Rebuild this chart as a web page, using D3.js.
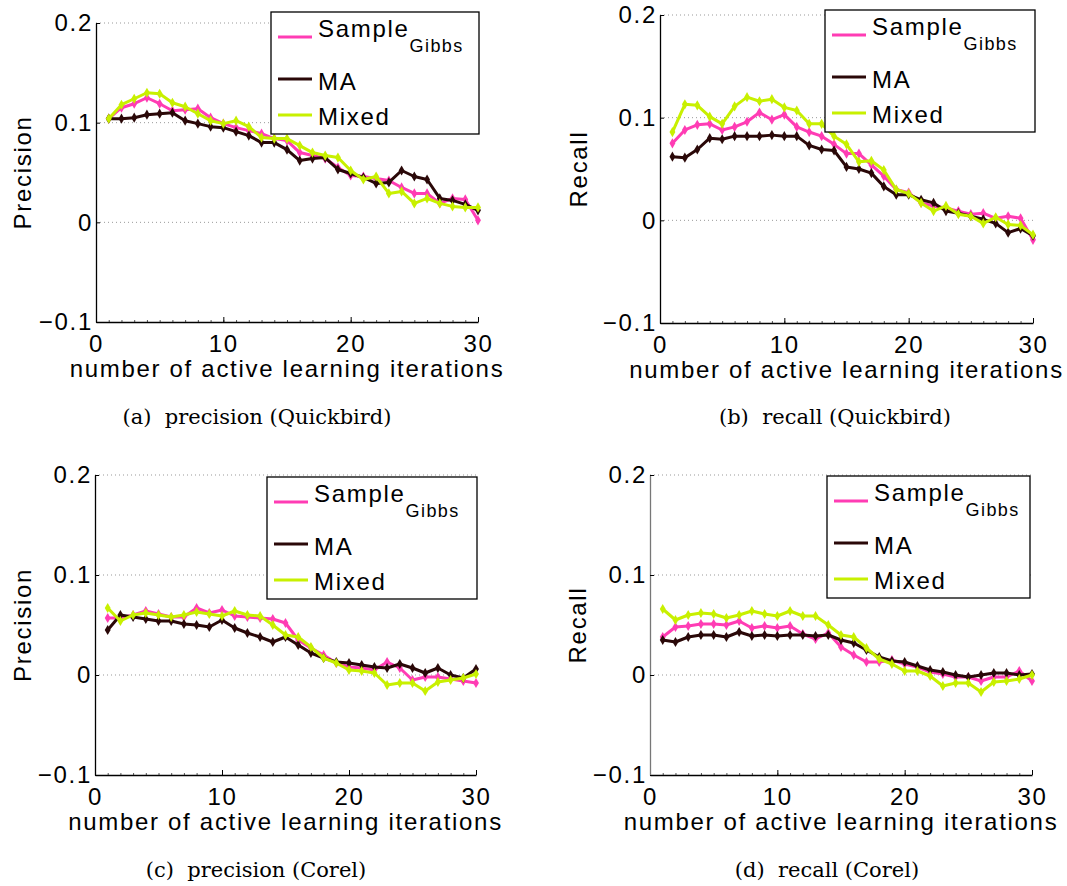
<!DOCTYPE html>
<html>
<head>
<meta charset="utf-8">
<script src="https://cdn.jsdelivr.net/npm/d3@7"></script>
<style>
  body { margin: 0; background: #fff; }
  svg { display: block; }
  text { font-family: "Liberation Sans", Arial, sans-serif; fill: #000; letter-spacing: 1.7px; }
  .caption { font-family: "DejaVu Serif", serif; letter-spacing: 0; white-space: pre; }
</style>
</head>
<body>
<svg width="1067" height="886"></svg>
<script>
// iterations on the x axis
const iterations = [1,2,3,4,5,6,7,8,9,10,11,12,13,14,15,16,17,18,19,20,21,22,23,24,25,26,27,28,29,30]
const xTicks = [0, 10, 20, 30]
const yTicks = [-0.1, 0, 0.1, 0.2]
const seriesNames = ["Sample", "MA", "Mixed"]

// (a) precision, Quickbird
const qbPrecisionSample = [0.104,0.115,0.119,0.125,0.119,0.112,0.113,0.114,0.105,0.099,0.095,0.092,0.089,0.084,0.082,0.070,0.067,0.064,0.055,0.047,0.046,0.044,0.042,0.035,0.029,0.029,0.019,0.024,0.023,0.002]
const qbPrecisionMA = [0.104,0.104,0.105,0.108,0.109,0.110,0.102,0.099,0.096,0.095,0.091,0.087,0.080,0.080,0.073,0.062,0.064,0.065,0.053,0.049,0.045,0.039,0.040,0.052,0.046,0.043,0.024,0.022,0.018,0.012]
const qbPrecisionMixed = [0.104,0.118,0.124,0.130,0.129,0.120,0.116,0.109,0.102,0.099,0.102,0.096,0.085,0.084,0.084,0.077,0.070,0.067,0.065,0.052,0.043,0.046,0.029,0.031,0.019,0.024,0.019,0.016,0.015,0.015]

// (b) recall, Quickbird
const qbRecallSample = [0.075,0.088,0.093,0.094,0.088,0.091,0.096,0.105,0.098,0.103,0.091,0.086,0.082,0.074,0.065,0.065,0.054,0.043,0.030,0.027,0.017,0.014,0.012,0.009,0.006,0.007,0.002,0.004,0.002,-0.019]
const qbRecallMA = [0.062,0.061,0.069,0.080,0.079,0.082,0.082,0.082,0.083,0.082,0.082,0.073,0.069,0.068,0.052,0.050,0.046,0.033,0.025,0.025,0.020,0.017,0.009,0.007,0.004,0.001,-0.003,-0.012,-0.008,-0.015]
const qbRecallMixed = [0.086,0.113,0.112,0.101,0.094,0.111,0.120,0.116,0.118,0.110,0.107,0.094,0.094,0.082,0.074,0.057,0.058,0.049,0.030,0.026,0.017,0.009,0.014,0.006,0.004,-0.003,0.003,-0.004,-0.005,-0.014]

// (c) precision, Corel
const corelPrecisionSample = [0.057,0.057,0.060,0.064,0.061,0.058,0.058,0.067,0.062,0.065,0.059,0.058,0.057,0.056,0.052,0.035,0.027,0.020,0.012,0.008,0.007,0.005,0.013,0.007,-0.005,-0.002,-0.002,-0.004,-0.006,-0.008]
const corelPrecisionMA = [0.045,0.060,0.058,0.056,0.054,0.054,0.051,0.050,0.048,0.055,0.047,0.042,0.038,0.033,0.038,0.030,0.022,0.017,0.013,0.012,0.010,0.008,0.007,0.011,0.007,0.002,0.007,0.000,-0.003,0.006]
const corelPrecisionMixed = [0.067,0.054,0.060,0.062,0.060,0.058,0.060,0.063,0.061,0.059,0.064,0.060,0.059,0.050,0.040,0.038,0.028,0.017,0.012,0.005,0.004,0.002,-0.010,-0.008,-0.008,-0.016,-0.007,-0.005,-0.003,0.001]

// (d) recall, Corel
const corelRecallSample = [0.038,0.048,0.049,0.051,0.051,0.050,0.054,0.047,0.049,0.047,0.049,0.041,0.036,0.042,0.028,0.020,0.013,0.013,0.015,0.011,0.008,0.003,0.001,-0.002,-0.002,-0.006,-0.002,-0.002,0.004,-0.006]
const corelRecallMA = [0.035,0.033,0.038,0.040,0.040,0.038,0.043,0.039,0.040,0.039,0.040,0.040,0.039,0.040,0.035,0.032,0.025,0.018,0.014,0.013,0.009,0.005,0.003,0.000,-0.002,0.000,0.002,0.002,0.000,0.001]
const corelRecallMixed = [0.066,0.055,0.060,0.062,0.061,0.057,0.060,0.064,0.061,0.059,0.064,0.059,0.059,0.050,0.040,0.038,0.027,0.016,0.011,0.004,0.004,-0.001,-0.011,-0.008,-0.008,-0.017,-0.007,-0.006,-0.004,0.000]

const colors = ["#ff3cb4", "#2a0808", "#c8f000"]

const panels = [
  { box: [96, 478, 23, 322], ylabel: "Precision", ylabelX: 22, axisColor: "#000",
    caption: "(a)  precision (Quickbird)", capX: 257, capY: 424, legend: [271, 12, 208],
    series: [qbPrecisionSample, qbPrecisionMA, qbPrecisionMixed] },
  { box: [660, 1033, 15, 323], ylabel: "Recall", ylabelX: 578, axisColor: "#000",
    caption: "(b)  recall (Quickbird)", capX: 835, capY: 424, legend: [825, 10, 210],
    series: [qbRecallSample, qbRecallMA, qbRecallMixed] },
  { box: [95, 476, 475, 775], ylabel: "Precision", ylabelX: 22, axisColor: "#000",
    caption: "(c)  precision (Corel)", capX: 256, capY: 877, legend: [267, 477, 210],
    series: [corelPrecisionSample, corelPrecisionMA, corelPrecisionMixed] },
  { box: [650, 1032, 475, 775], ylabel: "Recall", ylabelX: 577, axisColor: "#777",
    caption: "(d)  recall (Corel)", capX: 827, capY: 877, legend: [827, 476, 203],
    series: [corelRecallSample, corelRecallMA, corelRecallMixed] }
]

const svg = d3.select("svg")

const yFormat = d => d === 0 ? "0" : d3.format(".1f")(d)

panels.forEach(p => {
  const [left, right, top, bottom] = p.box

  const x = d3.scaleLinear().domain([0, 30]).range([left, right])
  const y = d3.scaleLinear().domain([-0.1, 0.2]).range([bottom, top])

  const g = svg.append("g")

  // dotted grid
  g.append("g")
    .selectAll("line")
    .data(yTicks.filter(t => t > -0.1))
    .join("line")
    .attr("x1", left).attr("x2", right)
    .attr("y1", d => y(d)).attr("y2", d => y(d))
    .attr("stroke", "#999")
    .attr("stroke-width", 1)
    .attr("stroke-dasharray", "1,3")

  // minor x ticks
  g.append("g")
    .selectAll("line")
    .data(d3.range(0, 31))
    .join("line")
    .attr("x1", d => x(d) + 0.5).attr("x2", d => x(d) + 0.5)
    .attr("y1", bottom).attr("y2", bottom - 2)
    .attr("stroke", "#555")
    .attr("stroke-width", 1)

  // x axis
  const xAxis = g.append("g")
    .attr("transform", `translate(0,${bottom})`)
    .call(d3.axisBottom(x).tickValues(xTicks).tickSizeInner(-5).tickSizeOuter(0).tickPadding(13))
  xAxis.select(".domain").attr("stroke", "#000").attr("stroke-width", 1.3)
  xAxis.selectAll(".tick line").attr("stroke", "#000")
  xAxis.selectAll("text").attr("font-size", 24).attr("font-family", "Liberation Sans, Arial, sans-serif").attr("fill", "#000")

  // y axis
  const yAxis = g.append("g")
    .attr("transform", `translate(${left},0)`)
    .call(d3.axisLeft(y).tickValues(yTicks).tickFormat(yFormat).tickSizeInner(-4).tickSizeOuter(0).tickPadding(3))
  yAxis.select(".domain").attr("stroke", p.axisColor).attr("stroke-width", 1.3)
  yAxis.selectAll(".tick line").attr("stroke", "#000")
  yAxis.selectAll("text").attr("font-size", 24).attr("letter-spacing", "1.2px").attr("font-family", "Liberation Sans, Arial, sans-serif").attr("fill", "#000")

  // labels
  g.append("text")
    .attr("x", (left + right) / 2)
    .attr("y", bottom + 55)
    .attr("text-anchor", "middle")
    .attr("font-size", 24)
    .text("number of active learning iterations")

  g.append("text")
    .attr("transform", `translate(${p.ylabelX},${(top + bottom) / 2}) rotate(-90)`)
    .attr("text-anchor", "middle")
    .attr("dy", "0.36em")
    .attr("font-size", 24)
    .text(p.ylabel)

  g.append("text")
    .attr("class", "caption")
    .attr("x", p.capX)
    .attr("y", p.capY)
    .attr("text-anchor", "middle")
    .attr("font-size", 21)
    .text(p.caption)

  // series
  const line = d3.line()
    .x((d, i) => x(iterations[i]))
    .y(d => y(d))

  const symbol = d3.symbol().type(d3.symbolDiamond).size(30)

  p.series.forEach((values, k) => {
    g.append("path")
      .datum(values)
      .attr("d", line)
      .attr("fill", "none")
      .attr("stroke", colors[k])
      .attr("stroke-width", 3)
      .attr("stroke-linejoin", "round")

    g.append("g")
      .selectAll("path")
      .data(values)
      .join("path")
      .attr("d", symbol)
      .attr("transform", (d, i) => `translate(${x(iterations[i])},${y(d)})`)
      .attr("fill", colors[k])
  })

  // legend
  const [lx, ly, lw] = p.legend
  const leg = g.append("g").attr("transform", `translate(${lx},${ly})`)
  leg.append("rect")
    .attr("width", lw).attr("height", 122)
    .attr("fill", "#fff").attr("stroke", "#000").attr("stroke-width", 1.3)

  const rows = [{ ly: 25, ty: 25 }, { ly: 67, ty: 78 }, { ly: 103, ty: 113 }]
  rows.forEach((r, k) => {
    leg.append("line")
      .attr("x1", 7).attr("x2", 41)
      .attr("y1", r.ly).attr("y2", r.ly)
      .attr("stroke", colors[k]).attr("stroke-width", 3)
    const t = leg.append("text")
      .attr("x", 47).attr("y", r.ty)
      .attr("font-size", 24)
      .text(seriesNames[k])
    if (k === 0) {
      t.append("tspan")
        .attr("font-size", 18)
        .attr("dy", 15)
        .attr("letter-spacing", "1.4px")
        .text("Gibbs")
    }
  })
})
</script>
</body>
</html>
